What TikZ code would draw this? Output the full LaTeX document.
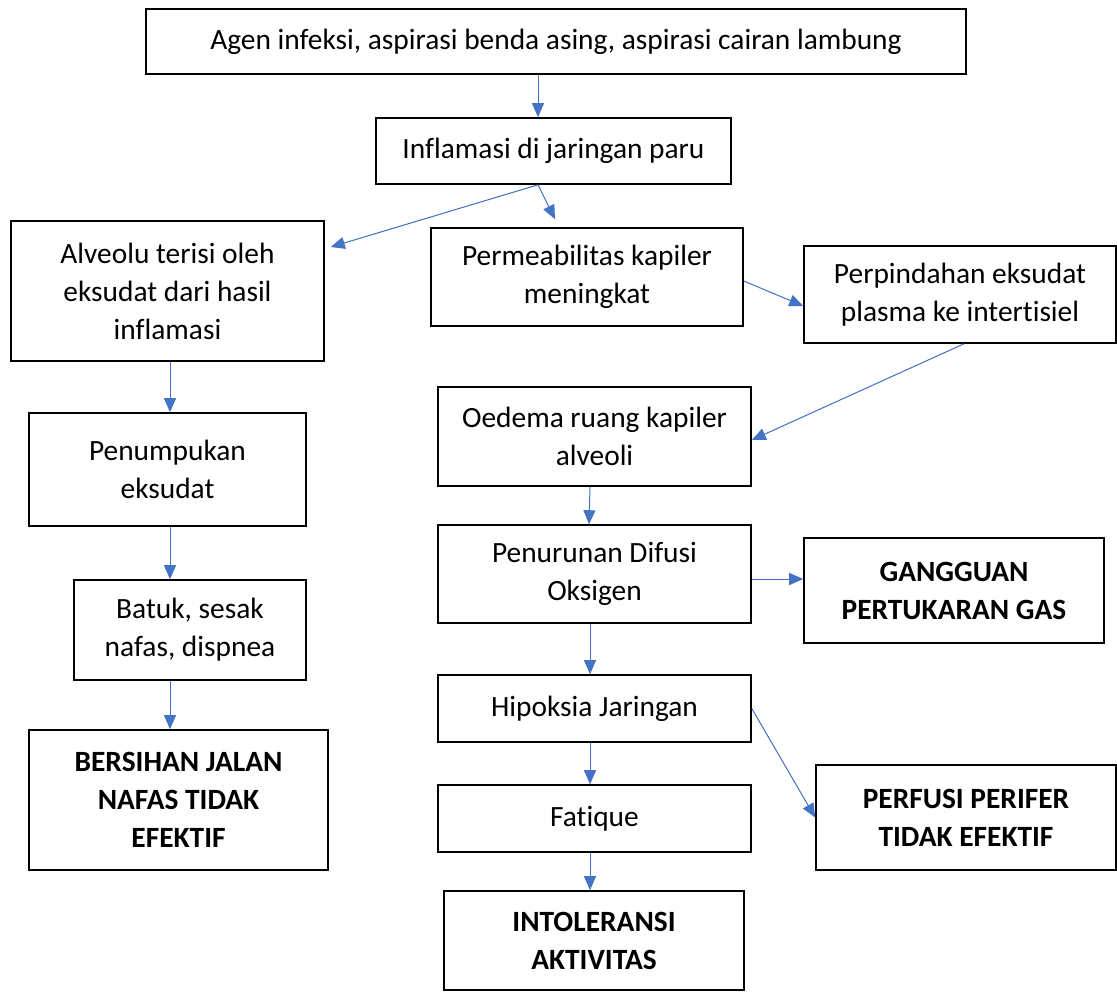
\documentclass[tikz,border=0pt]{standalone}
\usepackage{fontspec}
\setmainfont{Carlito}[Ligatures=NoCommon]
\usetikzlibrary{arrows.meta}
\definecolor{arrblue}{HTML}{4472C4}

\begin{document}
\begin{tikzpicture}[x=0.5pt, y=-0.5pt,
  box/.style={draw, line width=0.8pt, align=center, inner sep=0pt, font=\fontsize{14.7}{19}\selectfont},
  bbox/.style={box, font=\fontsize{14.7}{19}\selectfont\bfseries},
  arr/.style={-{Triangle[length=7pt,width=6pt]}, draw=arrblue, fill=arrblue, line width=0.5pt}]
  \useasboundingbox (0,0) rectangle (1117,991);
  \node[box, minimum width=410pt, minimum height=32.5pt] (agen) at (556,41.5) {Agen infeksi, aspirasi benda asing, aspirasi cairan lambung};
  \node[box, minimum width=177.5pt, minimum height=33pt] (infl) at (553.5,151) {Inflamasi di jaringan paru};
  \node[box, minimum width=156.5pt, minimum height=70pt] (alv) at (167.5,291) {Alveolu terisi oleh\\eksudat dari hasil\\inflamasi};
  \node[box, minimum width=156pt, minimum height=49pt] (perm) at (587,277) {Permeabilitas kapiler\\meningkat};
  \node[box, minimum width=156pt, minimum height=48.5pt] (perp) at (960,294.5) {Perpindahan eksudat\\plasma ke intertisiel};
  \node[box, minimum width=138.5pt, minimum height=56.5pt] (tumpuk) at (167.5,469.5) {Penumpukan\\eksudat};
  \node[box, minimum width=156.5pt, minimum height=49.5pt] (oedema) at (594.5,436.5) {Oedema ruang kapiler\\alveoli};
  \node[box, minimum width=156.5pt, minimum height=49pt] (difusi) at (594.5,574) {Penurunan Difusi\\Oksigen};
  \node[bbox, minimum width=150pt, minimum height=52.5pt] (gas) at (954,590.5) {GANGGUAN\\PERTUKARAN GAS};
  \node[box, minimum width=116pt, minimum height=50pt] (batuk) at (190,630) {Batuk, sesak\\nafas, dispnea};
  \node[box, minimum width=156.5pt, minimum height=33.5pt] (hipoksia) at (594.5,708.5) {Hipoksia Jaringan};
  \node[bbox, minimum width=149.5pt, minimum height=70pt] (jalan) at (178.5,800) {BERSIHAN JALAN\\NAFAS TIDAK\\EFEKTIF};
  \node[box, minimum width=156.5pt, minimum height=33.5pt] (fatique) at (594.5,818.5) {Fatique};
  \node[bbox, minimum width=150pt, minimum height=52.5pt] (perfusi) at (966,817.5) {PERFUSI PERIFER\\TIDAK EFEKTIF};
  \node[bbox, minimum width=150pt, minimum height=49.5pt] (intol) at (594,940.5) {INTOLERANSI\\AKTIVITAS};

  \draw[arr] ([xshift=-9pt]agen.south) -- ([xshift=-7.75pt]infl.north);
  \draw[arr] ([xshift=-7.75pt]infl.south) -- ([xshift=3pt,yshift=22pt]alv.east);
  \draw[arr] ([xshift=-7.75pt]infl.south) -- ([xshift=-16pt,yshift=4pt]perm.north);
  \draw[arr] ([yshift=-2pt]perm.east) -- ([yshift=-5.75pt]perp.west);
  \draw[arr] ([xshift=2pt]perp.south) -- ([yshift=-1.75pt]oedema.east);
  \draw[arr] ([xshift=1.25pt]alv.south) -- ([xshift=1.25pt]tumpuk.north);
  \draw[arr] ([xshift=1.25pt]tumpuk.south) -- ([xshift=-10pt]batuk.north);
  \draw[arr] ([xshift=-10pt]batuk.south) -- ([xshift=-4.25pt]jalan.north);
  \draw[arr] ([xshift=-2.25pt]oedema.south) -- ([xshift=-2.75pt]difusi.north);
  \draw[arr] ([yshift=-2.5pt]difusi.east) -- ([yshift=5.75pt]gas.west);
  \draw[arr] ([xshift=-2.25pt]difusi.south) -- ([xshift=-2.25pt]hipoksia.north);
  \draw[arr] (hipoksia.east) -- (perfusi.west);
  \draw[arr] ([xshift=-2.25pt]hipoksia.south) -- ([xshift=-2.25pt]fatique.north);
  \draw[arr] ([xshift=-2.25pt]fatique.south) -- ([xshift=-2pt]intol.north);
\end{tikzpicture}
\end{document}
